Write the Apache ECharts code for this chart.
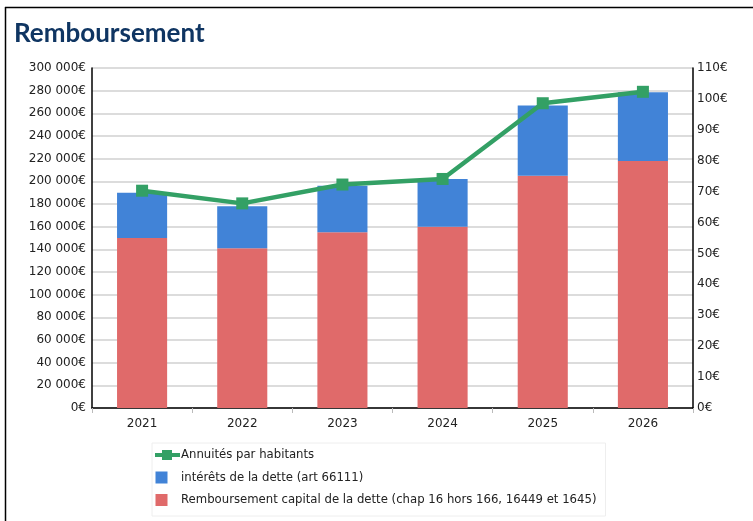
<!DOCTYPE html>
<html><head><meta charset="utf-8">
<script src="https://cdn.jsdelivr.net/npm/echarts@6/dist/echarts.min.js"></script>
<style>html,body{margin:0;padding:0;background:#fff}#c{width:753px;height:521px}</style>
</head><body><div id="c"></div>
<script>
const categories = ['2021','2022','2023','2024','2025','2026'];
const capital = [150000, 141000, 155000, 160000, 205000, 218000];
const interets = [40000, 37000, 41000, 42000, 62000, 60500];
const annuites = [70.3, 66.2, 72.3, 74.1, 98.6, 102.3];
const nameLine = 'Annuités par habitants';
const nameInt = 'intérêts de la dette (art 66111)';
const nameCap = 'Remboursement capital de la dette (chap 16 hors 166, 16449 et 1645)';

const font = 'DejaVu Sans';
const chart = echarts.init(document.getElementById('c'), null, {renderer:'canvas'});
function fmtEuro(v){
  if (v === 0) return '0€';
  const s = String(v);
  return s.replace(/\B(?=(\d{3})+(?!\d))/g, ' ') + '€';
}
const sqIcon = 'path://M1,0L13,0L13,12L1,12Z M25,6L25,6.01L24.99,6.01Z';
const lineIcon = 'path://M0,4L7,4L7,1L17,1L17,4L25,4L25,8L17,8L17,11L7,11L7,8L0,8Z';
chart.setOption({
  animation:false,
  backgroundColor:'#fff',
  textStyle:{fontFamily:font},
  title:{text:'Remboursement', left:9, top:16,
    textStyle:{fontFamily:'Lato', fontWeight:'bold', fontSize:26, color:'#0f3562'}},
  graphic:[
    {type:'line', shape:{x1:5,y1:7.5,x2:753,y2:7.5}, style:{stroke:'#000',lineWidth:1.5}},
    {type:'line', shape:{x1:5.5,y1:7,x2:5.5,y2:521}, style:{stroke:'#000',lineWidth:1.5}}
  ],
  grid:{left:92, right:60, top:68, bottom:113, containLabel:false},
  legend:{
    orient:'vertical', left:152, top:443,
    padding:[6,9,10,3],
    backgroundColor:'#fff', borderColor:'#eeeeee', borderWidth:1,
    itemGap:10.5, itemWidth:25, itemHeight:12,
    textStyle:{fontFamily:font, fontSize:11.7, color:'#222', padding:[0,0,0,-4]},
    data:[
      {name:nameLine, icon:lineIcon, itemStyle:{color:'#33a065'}},
      {name:nameInt, icon:sqIcon},
      {name:nameCap, icon:sqIcon}
    ]
  },
  xAxis:{type:'category', data:categories,
    axisLine:{lineStyle:{color:'#000', width:1.5}},
    axisTick:{show:true, alignWithLabel:false, length:5, lineStyle:{color:'#bbb'}},
    axisLabel:{fontFamily:font, fontSize:12, color:'#222', margin:10}},
  yAxis:[
    {type:'value', min:0, max:300000, interval:20000, position:'left',
     axisLine:{show:true, lineStyle:{color:'#000', width:1.5}},
     axisTick:{show:false},
     splitLine:{lineStyle:{color:'#d0d0d0', width:1.5}},
     axisLabel:{fontFamily:font, fontSize:12, color:'#222', margin:6, formatter:fmtEuro}},
    {type:'value', min:0, max:110, interval:10, position:'right',
     axisLine:{show:true, lineStyle:{color:'#000', width:1.5}},
     axisTick:{show:false},
     splitLine:{show:false},
     axisLabel:{fontFamily:font, fontSize:12, color:'#222', margin:4, formatter:v=>v+'€'}}
  ],
  series:[
    {name:nameCap, type:'bar', stack:'a', data:capital, barWidth:'50%',
     itemStyle:{color:'#e06a6a'}},
    {name:nameInt, type:'bar', stack:'a', data:interets, barWidth:'50%',
     itemStyle:{color:'#4183d7'}},
    {name:nameLine, type:'line', yAxisIndex:1, data:annuites,
     lineStyle:{color:'#33a065', width:4.5}, itemStyle:{color:'#33a065'},
     symbol:'rect', symbolSize:12, z:5}
  ]
});
</script></body></html>
